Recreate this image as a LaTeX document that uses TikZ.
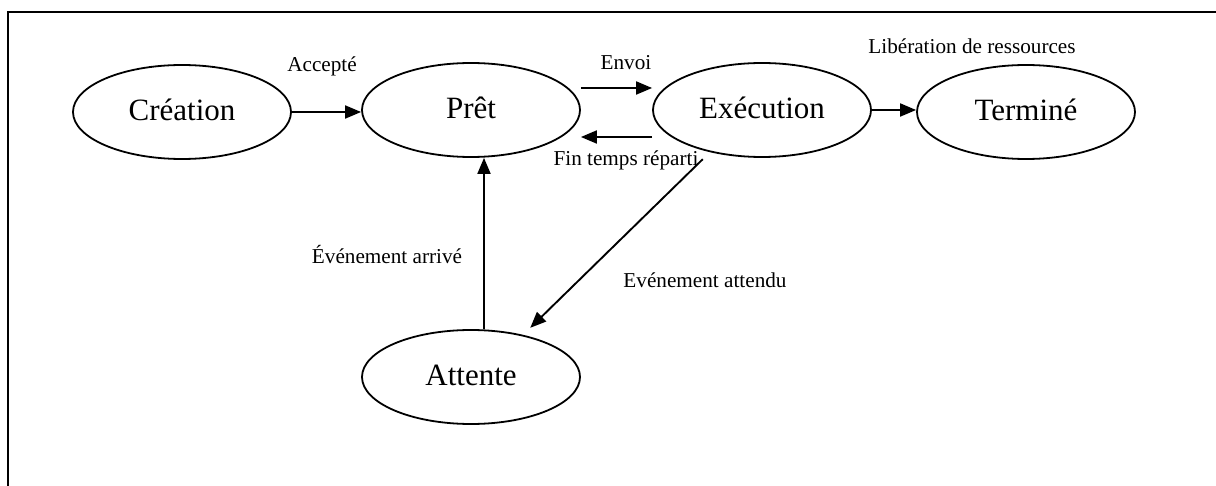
\documentclass[tikz,border=0pt]{standalone}
\usepackage{fontspec}
\setmainfont{Liberation Serif}
\usetikzlibrary{shapes.geometric,arrows.meta}

\tikzset{
  state/.style={draw, ellipse, line width=0.9pt, inner sep=0pt,
    minimum width=109pt, minimum height=47pt,
    text height=10pt, text depth=1.5pt,
    font=\fontsize{15.5}{18}\selectfont},
  lbl/.style={inner sep=0pt, font=\fontsize{10.6}{12}\selectfont},
  arr/.style={line width=0.95pt, -{Triangle[length=8pt,width=6.5pt]}},
  frame/.style={line width=1.2pt}
}

\begin{document}
\begin{tikzpicture}[x=0.5pt,y=-0.5pt]
  \useasboundingbox (0,0) rectangle (1216,486);

  % outer frame (top and left edges)
  \coordinate (ftl) at (8,12);
  \coordinate (ftr) at (1216,12);
  \coordinate (fbl) at (8,486);
  \draw[frame] (ftr) -- (ftl) -- (fbl);

  % process states
  \node[state] (creation) at (182,112) {Création};
  \node[state] (pret)     at (471,110) {Prêt};
  \node[state] (exec)     at (762,110) {Exécution};
  \node[state] (termine)  at (1026,112) {Terminé};
  \node[state] (attente)  at (471,377) {Attente};

  % transitions
  \draw[arr] (creation.east) -- (pret.west |- creation.east);
  \draw[arr] (pret.east |- 0,88) -- (exec.west |- 0,88);
  \draw[arr] (exec.west |- 0,137) -- (pret.east |- 0,137);
  \draw[arr] (exec.east) -- (termine.west |- exec.east);
  \draw[arr] (attente.north -| 484,0) -- (pret.south -| 484,0);
  \draw[arr, shorten <=5pt, shorten >=5pt] (exec.219) -- (attente.39);

  % transition labels
  \node[lbl] (lacc)  at (322,66)  {Accepté};
  \node[lbl] (lenv)  at (626,63)  {Envoi};
  \node[lbl] (lfin)  at (626,160) {Fin temps réparti};
  \node[lbl] (llib)  at (972,46)  {Libération de ressources};
  \node[lbl] (larr)  at (387,255) {Événement arrivé};
  \node[lbl] (latt)  at (705,280) {Evénement attendu};
\end{tikzpicture}
\end{document}
